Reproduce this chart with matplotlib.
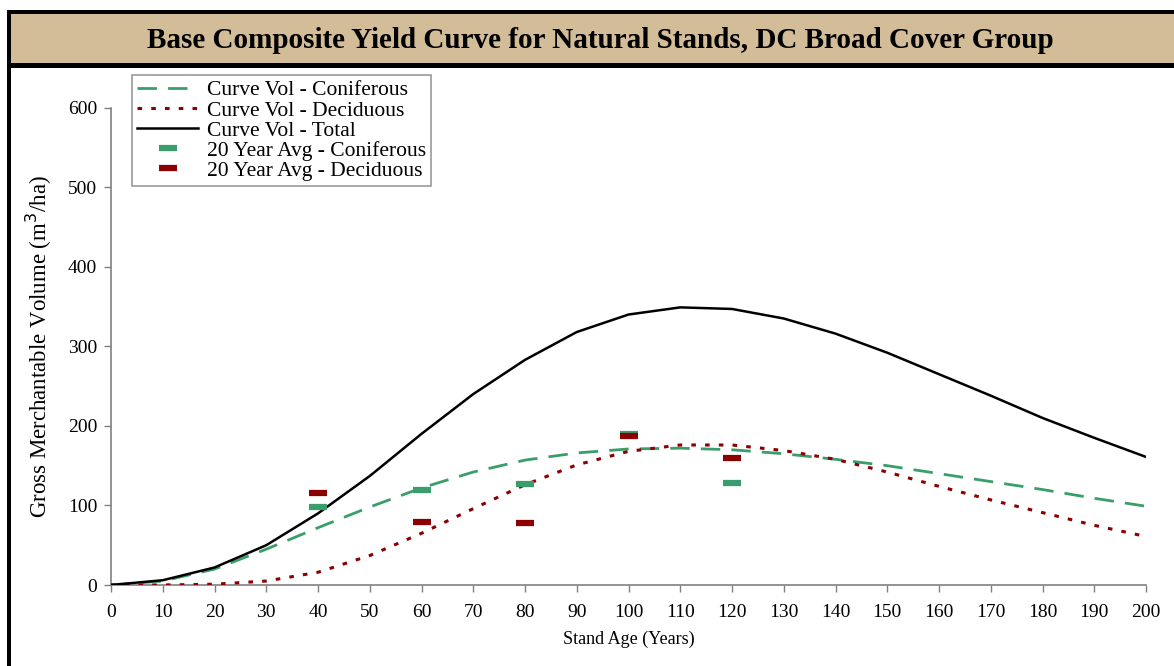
import matplotlib
matplotlib.use("Agg")
import matplotlib.pyplot as plt
from matplotlib.patches import Rectangle

ages = [0, 10, 20, 30, 40, 50, 60, 70, 80, 90, 100, 110, 120, 130, 140, 150, 160, 170, 180, 190, 200]
vol_total = [0, 6, 22, 50, 90, 137, 190, 240, 283, 318, 340, 349, 347, 335, 316, 292, 265, 238, 210, 185, 161]
vol_conif = [0, 5, 20, 45, 72, 98, 122, 142, 157, 166, 171, 172, 170, 165, 158, 150, 140, 130, 120, 109, 99]
vol_decid = [0, 0, 1, 5, 16, 37, 65, 96, 126, 151, 168, 176, 176, 169, 158, 142, 124, 107, 91, 75, 61]

avg_ages = [40, 60, 80, 100, 120]
avg_conif = [98, 119, 127, 190, 128]
avg_decid = [116, 79, 78, 187, 160]

xticks = list(range(0, 201, 10))
yticks = list(range(0, 601, 100))

title = "Base Composite Yield Curve for Natural Stands, DC Broad Cover Group"

plt.rcParams['font.family'] = ['Liberation Serif', 'DejaVu Serif']

W, H = 1174, 666
fig = plt.figure(figsize=(W / 100, H / 100), dpi=100)
fig.patch.set_facecolor('white')

def fx(px):
    return px / W

def fy(py):
    return 1 - py / H

# Frame: title band and borders
fig.patches.append(Rectangle((fx(7), fy(68)), 1, (68 - 10) / H, transform=fig.transFigure,
                             facecolor='black', edgecolor='none', zorder=0))
fig.patches.append(Rectangle((fx(11), fy(63)), 1, (63 - 14) / H, transform=fig.transFigure,
                             facecolor='#D3BC98', edgecolor='none', zorder=1))
fig.patches.append(Rectangle((fx(7), 0), 4 / W, fy(10), transform=fig.transFigure,
                             facecolor='black', edgecolor='none', zorder=2))
fig.text(fx(600), fy(40), title, ha='center', va='center', fontsize=21,
         fontweight='bold', color='black')

ax_l, ax_r, ax_t, ax_b = 111, 1146, 107.7, 585
ax = fig.add_axes([fx(ax_l), fy(ax_b), (ax_r - ax_l) / W, (ax_b - ax_t) / H])
ax.set_xlim(0, 200)
ax.set_ylim(0, 600)

ax.plot(ages, vol_conif, color='#3A9E6C', lw=2, dashes=(7, 4), label='Curve Vol - Coniferous', zorder=3)
ax.plot(ages, vol_decid, color='#8B0000', lw=2.2, dashes=(1.5, 3), label='Curve Vol - Deciduous', zorder=3)
ax.plot(ages, vol_total, color='black', lw=1.8, label='Curve Vol - Total', zorder=4)
ax.plot(avg_ages, avg_conif, linestyle='none', marker='_', markersize=13, markeredgewidth=4.5,
        color='#3A9E6C', label='20 Year Avg - Coniferous', zorder=5)
ax.plot(avg_ages, avg_decid, linestyle='none', marker='_', markersize=13, markeredgewidth=4.5,
        color='#8B0000', label='20 Year Avg - Deciduous', zorder=5)

ax.set_xticks(xticks)
ax.set_yticks(yticks)
for s in ['top', 'right']:
    ax.spines[s].set_visible(False)
for s in ['left', 'bottom']:
    ax.spines[s].set_color('#808080')
    ax.spines[s].set_linewidth(1.2)
ax.tick_params(axis='both', direction='out', length=5, width=1, color='#808080',
               labelsize=14, labelcolor='black', pad=5)
ax.tick_params(axis='x', pad=9)
ax.set_xlabel('Stand Age (Years)', fontsize=13, labelpad=7)
ax.set_ylabel('Gross Merchantable Volume (m$^3$/ha)', fontsize=16.5, labelpad=10)

leg = ax.legend(loc='upper left', bbox_to_anchor=(fx(132), fy(75)), bbox_transform=fig.transFigure,
                fontsize=15.5, frameon=True, fancybox=False, handlelength=2.8, handletextpad=0.42,
                labelspacing=0.0, borderpad=0.25, borderaxespad=0)
leg.get_frame().set_edgecolor('#808080')
leg.get_frame().set_linewidth(1.2)

fig.savefig('out.png', dpi=100)
